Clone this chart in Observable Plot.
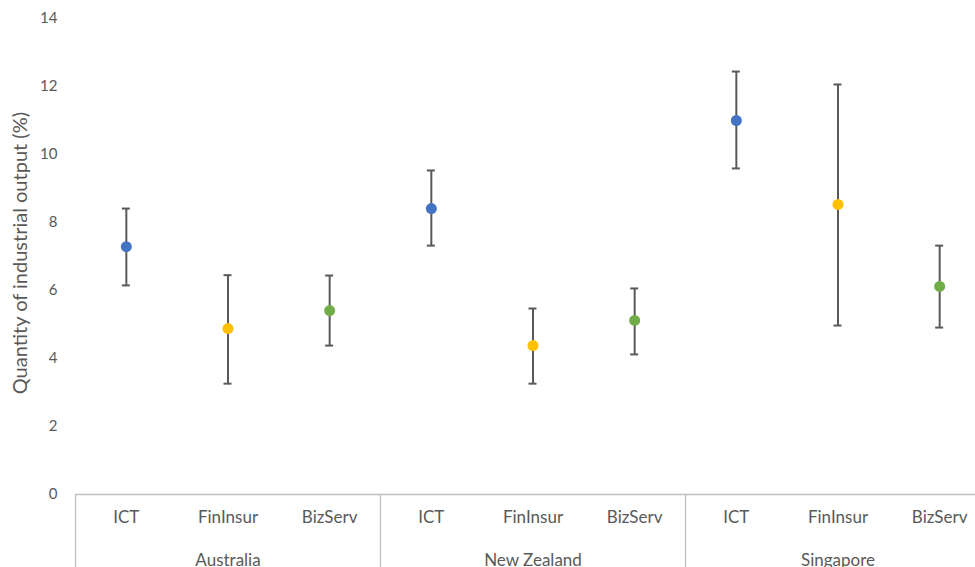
<!DOCTYPE html>
<html>
<head>
<meta charset="utf-8">
<script src="https://cdn.jsdelivr.net/npm/d3@7"></script>
<script src="https://cdn.jsdelivr.net/npm/@observablehq/plot@0.6"></script>
<style>
  html, body { margin: 0; padding: 0; background: #fff; }
  #chart svg { display: block; font-family: Lato, "Open Sans", sans-serif; }
</style>
</head>
<body>
<div id="chart"></div>
<script>
const countries = ["Australia", "New Zealand", "Singapore"];
const sectors = ["ICT", "FinInsur", "BizServ"];
const estimates = [7.29, 4.88, 5.41, 8.41, 4.38, 5.12, 11.0, 8.53, 6.12];
const upper = [8.41, 6.45, 6.44, 9.53, 5.47, 6.06, 12.44, 12.06, 7.32];
const lower = [6.15, 3.26, 4.38, 7.32, 3.26, 4.12, 9.59, 4.97, 4.91];
const yTicks = [0, 2, 4, 6, 8, 10, 12, 14];
const colors = ["#4472C4", "#FFC000", "#70AD47"];

const rows = [];
countries.forEach((c, ci) => sectors.forEach((s, si) => {
  const i = ci * 3 + si;
  rows.push({key: c + "|" + s, country: c, sector: s, est: estimates[i], hi: upper[i], lo: lower[i]});
}));
const keys = rows.map(d => d.key);
const groupStarts = countries.map(c => ({key: c + "|" + sectors[0], country: c}));
const groupMids = countries.map(c => ({key: c + "|" + sectors[1], country: c}));

const xRange = [75, 990];
const band = (xRange[1] - xRange[0]) / keys.length;
const capW = 8;
const grey = "#595959";

const chart = Plot.plot({
  width: 975,
  height: 567,
  marginTop: 0,
  marginBottom: 0,
  marginLeft: 75,
  marginRight: 0,
  style: {fontFamily: "Lato, 'Open Sans', sans-serif", color: grey, background: "#fff"},
  x: {type: "band", domain: keys, range: xRange, padding: 0, round: false, axis: null},
  y: {domain: [0, 14], range: [494, 18]},
  color: {domain: sectors, range: colors},
  marks: [
    Plot.axisY(yTicks, {
      tickSize: 0, tickPadding: 18, fontSize: 15, fill: grey, label: null
    }),
    Plot.text(["Quantity of industrial output (%)"], {
      frameAnchor: "left", dx: -55, y: 7.1, rotate: -90, fontSize: 20, fill: grey, textAnchor: "middle"
    }),
    Plot.ruleY([0], {stroke: "#bfbfbf", strokeWidth: 1.3}),
    Plot.ruleX(groupStarts, {x: "key", dx: -band / 2, y1: 0, y2: -2.2, stroke: "#bfbfbf", strokeWidth: 1.3}),
    Plot.ruleX(rows, {x: "key", y1: "lo", y2: "hi", stroke: grey, strokeWidth: 2}),
    Plot.tickY(rows, {x: "key", y: "hi", stroke: grey, strokeWidth: 2, insetLeft: (band - capW) / 2, insetRight: (band - capW) / 2}),
    Plot.tickY(rows, {x: "key", y: "lo", stroke: grey, strokeWidth: 2, insetLeft: (band - capW) / 2, insetRight: (band - capW) / 2}),
    Plot.dot(rows, {x: "key", y: "est", fill: "sector", r: 5.5}),
    Plot.text(rows, {x: "key", text: "sector", frameAnchor: "bottom", dy: -45, fontSize: 17, fill: grey}),
    Plot.text(groupMids, {x: "key", text: "country", frameAnchor: "bottom", dy: -2, fontSize: 17, fill: grey})
  ]
});
document.getElementById("chart").appendChild(chart);
</script>
</body>
</html>
